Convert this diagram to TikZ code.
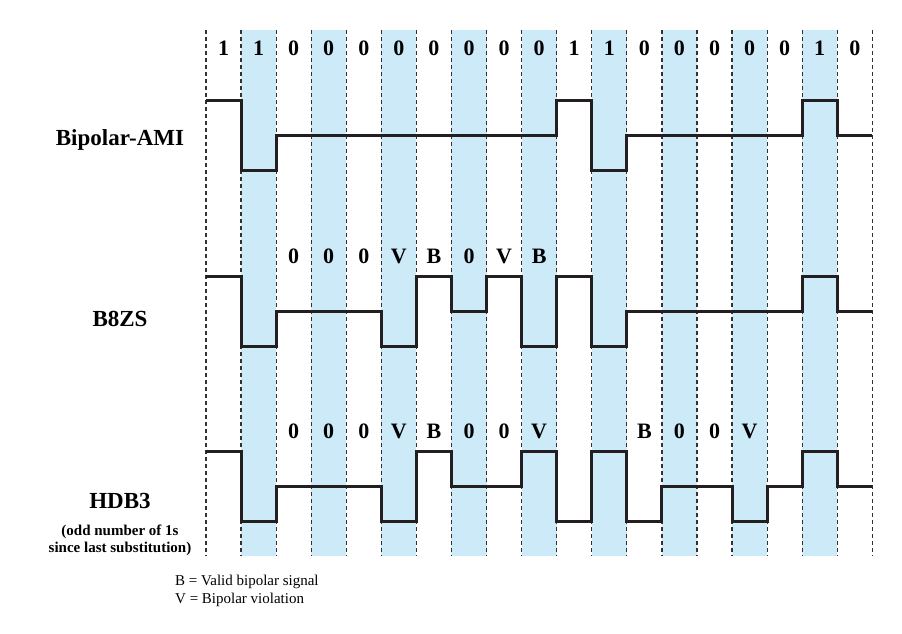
\documentclass[tikz,border=0pt]{standalone}
\usepackage{fontspec}
\setmainfont{Liberation Serif}
\definecolor{stripe}{RGB}{204,234,248}
\definecolor{wave}{RGB}{35,31,32}
\definecolor{grid}{RGB}{50,50,50}
\begin{document}
\begin{tikzpicture}[x=1pt,y=-1pt,
  bitlab/.style={font=\fontsize{22}{24}\selectfont\bfseries, anchor=base, inner sep=0pt},
  rowlab/.style={font=\fontsize{23}{25}\selectfont\bfseries, anchor=base, inner sep=0pt},
  smalllab/.style={font=\fontsize{15}{17}\selectfont\bfseries, anchor=base, inner sep=0pt},
  legend/.style={font=\fontsize{15}{17}\selectfont, anchor=base west, inner sep=0pt},
  gridline/.style={draw=grid, line width=1.2pt, dash pattern=on 4pt off 3pt},
  signal/.style={draw=wave, line width=3pt, line join=miter}]
\useasboundingbox (0,0) rectangle (902,633);
\def\xo{206}
\def\w{35.07}
% stripes
\foreach \k in {2,4,...,18}
  \fill[stripe] ({\xo+(\k-1)*\w},30) rectangle ({\xo+\k*\w},556);
% grid lines
\foreach \k in {0,...,19}
  \draw[gridline] ({\xo+\k*\w},30) -- ({\xo+\k*\w},556);
% bit labels
\foreach \b [count=\k] in {1,1,0,0,0,0,0,0,0,0,1,1,0,0,0,0,0,1,0}
  \node[bitlab] (bit\k) at ({\xo+(\k-0.5)*\w},55) {\b};
% B8ZS labels
\foreach \b [count=\i] in {0,0,0,V,B,0,V,B}
  \node[bitlab] (bz\i) at ({\xo+(\i+1.5)*\w},263) {\b};
% HDB3 labels
\foreach \b [count=\i] in {0,0,0,V,B,0,0,V}
  \node[bitlab] (hd\i) at ({\xo+(\i+1.5)*\w},438) {\b};
\foreach \b [count=\i] in {B,0,0,V}
  \node[bitlab] (hdb\i) at ({\xo+(\i+11.5)*\w},438) {\b};
% waveforms
\def\yc{135.5}
\draw[signal] (\xo,{\yc-35}) \foreach \l [count=\k] in {1,-1,0,0,0,0,0,0,0,0,1,-1,0,0,0,0,0,1,0}
  { -- ({\xo+(\k-1)*\w},{\yc-\l*35}) -- ({\xo+\k*\w},{\yc-\l*35}) };
\def\yc{311}
\draw[signal] (\xo,{\yc-35}) \foreach \l [count=\k] in {1,-1,0,0,0,-1,1,0,1,-1,1,-1,0,0,0,0,0,1,0}
  { -- ({\xo+(\k-1)*\w},{\yc-\l*35}) -- ({\xo+\k*\w},{\yc-\l*35}) };
\def\yc{486.5}
\draw[signal] (\xo,{\yc-35}) \foreach \l [count=\k] in {1,-1,0,0,0,-1,1,0,0,1,-1,1,-1,0,0,-1,0,1,0}
  { -- ({\xo+(\k-1)*\w},{\yc-\l*35}) -- ({\xo+\k*\w},{\yc-\l*35}) };
% row labels
\node[rowlab] (ami) at (120,145) {Bipolar-AMI};
\node[rowlab] (b8zs) at (120,326) {B8ZS};
\node[rowlab] (hdb3) at (120,508) {HDB3};
\node[smalllab] (note1) at (120,535) {(odd number of 1s};
\node[smalllab] (note2) at (120,552) {since last substitution)};
% legend
\node[legend] (legB) at (175,585) {B = Valid bipolar signal};
\node[legend] (legV) at (175,603) {V = Bipolar violation};
\end{tikzpicture}
\end{document}
